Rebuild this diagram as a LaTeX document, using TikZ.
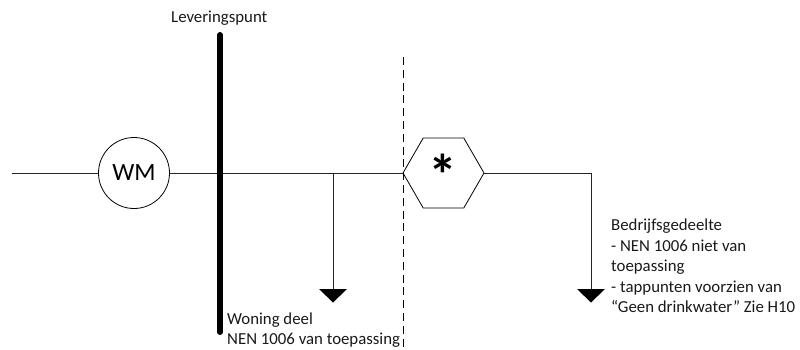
\documentclass[tikz,border=0pt]{standalone}
\usepackage{fontspec}
\setmainfont{Carlito}
\usetikzlibrary{shapes.geometric}
\tikzset{
  x=1pt,y=-1pt,
  pipe/.style={line width=0.8pt,draw=black!85},
  meter/.style={circle,draw,line width=0.8pt,minimum size=71pt,inner sep=0pt,font=\fontsize{24.8}{24.8}\selectfont},
  hexa/.style={regular polygon,regular polygon sides=6,draw,line width=0.8pt,minimum size=81pt,inner sep=0pt},
  lab/.style={anchor=north west,inner sep=0pt,align=left,font=\fontsize{16.8}{20.4}\selectfont,text=black!90},
  tapend/.style={fill=black}
}
\begin{document}
\begin{tikzpicture}
\useasboundingbox (0,0) rectangle (800,349);
\coordinate (start) at (12,173);
\node[meter] (wm) at (134,173) {WM};
\node[hexa] (hex) at (443.5,173) {};
\node[anchor=base,inner sep=0pt,font=\bfseries\fontsize{58}{58}\selectfont] (star) at (443,195) {*};
\coordinate (bartop) at (220,35);
\coordinate (barbot) at (220,332);
\coordinate (dashtop) at (403,57);
\coordinate (dashbot) at (403,347);
\coordinate (branch) at (333,173);
\coordinate (tap1) at (333,289);
\coordinate (corner) at (591,173);
\coordinate (tap2) at (591,289);
\draw[pipe] (start) -- (wm.west);
\draw[pipe] (wm.east) -- (hex.corner 3);
\draw[pipe] (branch) -- (tap1);
\draw[pipe] (hex.corner 6) -- (corner) -- (tap2);
\draw[line width=6pt,line cap=round] (bartop) -- (barbot);
\draw[line width=0.8pt,dash pattern=on 8pt off 4.8pt] (dashtop) -- (dashbot);
\fill[tapend] (tap1) ++(-14,0) -- ++(28,0) -- ++(-14,13.5) -- cycle;
\fill[tapend] (tap2) ++(-14,0) -- ++(28,0) -- ++(-14,13.5) -- cycle;
\node[lab] (lever) at (171,11) {Leveringspunt};
\node[lab] (woning) at (227,312.5) {Woning deel\\NEN 1006 van toepassing};
\node[lab] (bedrijf) at (611,219) {Bedrijfsgedeelte\\- NEN 1006 niet van\\toepassing\\- tappunten voorzien van\\“Geen drinkwater” Zie H10};
\end{tikzpicture}
\end{document}
